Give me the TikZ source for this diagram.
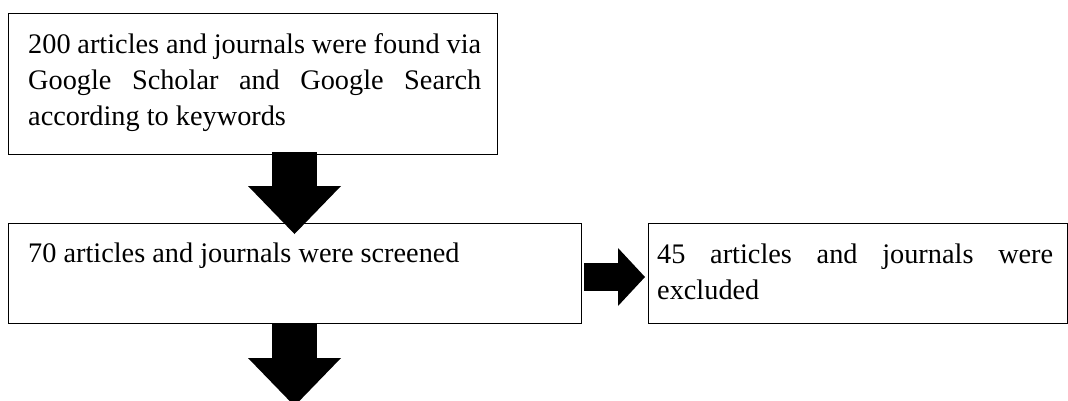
\documentclass[tikz,border=0pt]{standalone}
\usepackage{fontspec}
\setmainfont{Liberation Serif}
\usetikzlibrary{arrows.meta}
\begin{document}
\begin{tikzpicture}[x=1pt,y=-1pt,
  box/.style={draw=black, line width=1.2pt, anchor=north west, inner sep=0pt},
  label/.style={anchor=base west, inner sep=0pt, align=left,
    font=\fontsize{28.3}{36}\selectfont},
  fatdown/.style={line width=45pt, -{Triangle[width=93pt,length=48pt,line width=0pt]}},
  fatright/.style={line width=28pt, -{Triangle[width=58pt,length=27pt,line width=0pt]}}]
\clip (0,0) rectangle (1068,400);
\fill[white] (0,0) rectangle (1068,400);

% boxes
\node[box, minimum width=489pt, minimum height=141pt] (b1) at (8,13) {};
\node[box, minimum width=573pt, minimum height=100pt] (b2) at (8,223) {};
\node[box, minimum width=419pt, minimum height=100pt] (b3) at (648,223) {};

% texts (anchored at the baseline of their last line)
\node[label] (t1) at (28,125)
  {\makebox[453pt][s]{200 articles and journals were found via}\\
   \makebox[453pt][s]{Google Scholar and Google Search}\\
   according to keywords};
\node[label] (t2) at (28,262) {70 articles and journals were screened};
\node[label] (t3) at (657,299)
  {\makebox[396pt][s]{45 articles and journals were}\\excluded};

% block arrows
\coordinate (a1s) at (294.5,152);
\coordinate (a1t) at (294.5,234);
\coordinate (a2t) at (294.5,406);
\coordinate (a3s) at (584,277);
\coordinate (a3t) at (645,277);
\draw[fatdown] (a1s) -- (a1t);
\draw[fatdown] (a1t |- b2.south) -- (a2t);
\draw[fatright] (a3s) -- (a3t);
\end{tikzpicture}
\end{document}
